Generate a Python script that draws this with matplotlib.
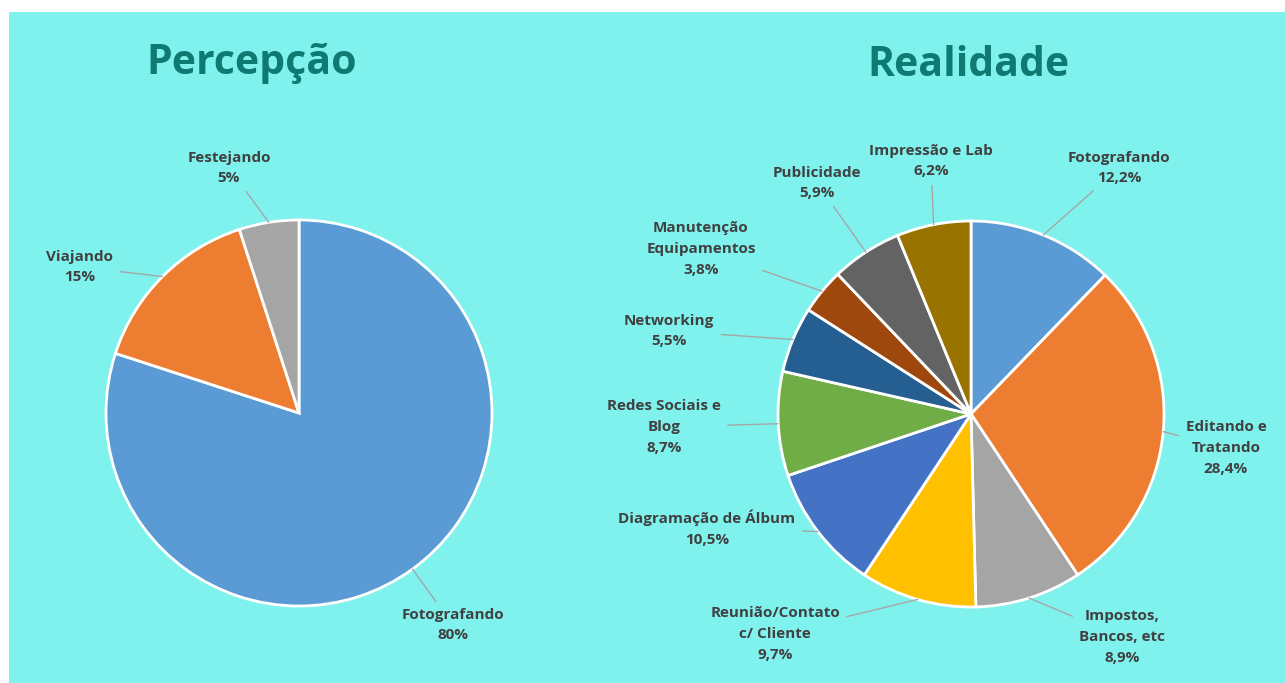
import matplotlib.pyplot as plt
from matplotlib.patches import Rectangle
import numpy as np

plt.rcParams['font.family'] = ['Open Sans', 'DejaVu Sans']

W, H = 1285, 683

# Percepção
perc_labels = ["Fotografando", "Viajando", "Festejando"]
perc_values = [80, 15, 5]
perc_colors = ["#5B9BD5", "#ED7D31", "#A5A5A5"]

# Realidade
real_labels = [
    "Fotografando",
    "Editando e\nTratando",
    "Impostos,\nBancos, etc",
    "Reunião/Contato\nc/ Cliente",
    "Diagramação de Álbum",
    "Redes Sociais e\nBlog",
    "Networking",
    "Manutenção\nEquipamentos",
    "Publicidade",
    "Impressão e Lab",
]
real_values = [12.2, 28.4, 8.9, 9.7, 10.5, 8.7, 5.5, 3.8, 5.9, 6.2]
real_colors = ["#5B9BD5", "#ED7D31", "#A5A5A5", "#FFC000", "#4472C4",
               "#70AD47", "#255E91", "#9E480E", "#636363", "#997300"]

bg = "#80F2EE"
title_color = "#0F7A72"
text_color = "#404040"
line_color = "#A6A6A6"

# label centres in pixels (x, y from top)
perc_pos = [(453, 625), (80, 267), (229, 168)]
real_pos = [(1119, 168), (1226, 448), (1122, 637), (775, 634), (707, 528),
            (664, 427), (669, 331), (701, 249), (817, 183), (931, 161)]

fig = plt.figure(figsize=(12.85, 6.83), dpi=100)
fig.patch.set_facecolor("white")
ax = fig.add_axes([0, 0, 1, 1])


def draw_pie(values, colors, labels, fmt, center, radius, positions):
    wedges, _ = ax.pie(values, colors=colors, startangle=90, counterclock=False,
                       center=center, radius=radius,
                       wedgeprops=dict(edgecolor="white", linewidth=2))
    for w, v, lab, pos in zip(wedges, values, labels, positions):
        mid = np.deg2rad((w.theta1 + w.theta2) / 2)
        edge = (center[0] + radius * np.cos(mid), center[1] + radius * np.sin(mid))
        ax.annotate(lab + "\n" + fmt(v), xy=edge, xytext=(pos[0], H - pos[1]),
                    ha="center", va="center", fontsize=11, fontweight="bold",
                    color=text_color, linespacing=1.62,
                    arrowprops=dict(arrowstyle="-", color=line_color, lw=1,
                                    shrinkA=3, shrinkB=0))


draw_pie(perc_values, perc_colors, perc_labels, lambda v: f"{v:.0f}%",
         (299, H - 413), 193, perc_pos)
draw_pie(real_values, real_colors, real_labels,
         lambda v: f"{v:.1f}%".replace(".", ","),
         (971, H - 414), 193, real_pos)

ax.add_patch(Rectangle((9, 0), W - 9, H - 12, facecolor=bg, edgecolor="none", zorder=0))

ax.text(252, H - 63, "Percepção", ha="center", va="center", fontsize=29.5,
        fontweight="bold", color=title_color)
ax.text(968, H - 65, "Realidade", ha="center", va="center", fontsize=29.5,
        fontweight="bold", color=title_color)

ax.set_xlim(0, W)
ax.set_ylim(0, H)
ax.set_aspect("auto")
ax.axis("off")

fig.savefig("out.png", dpi=100, facecolor="white")
